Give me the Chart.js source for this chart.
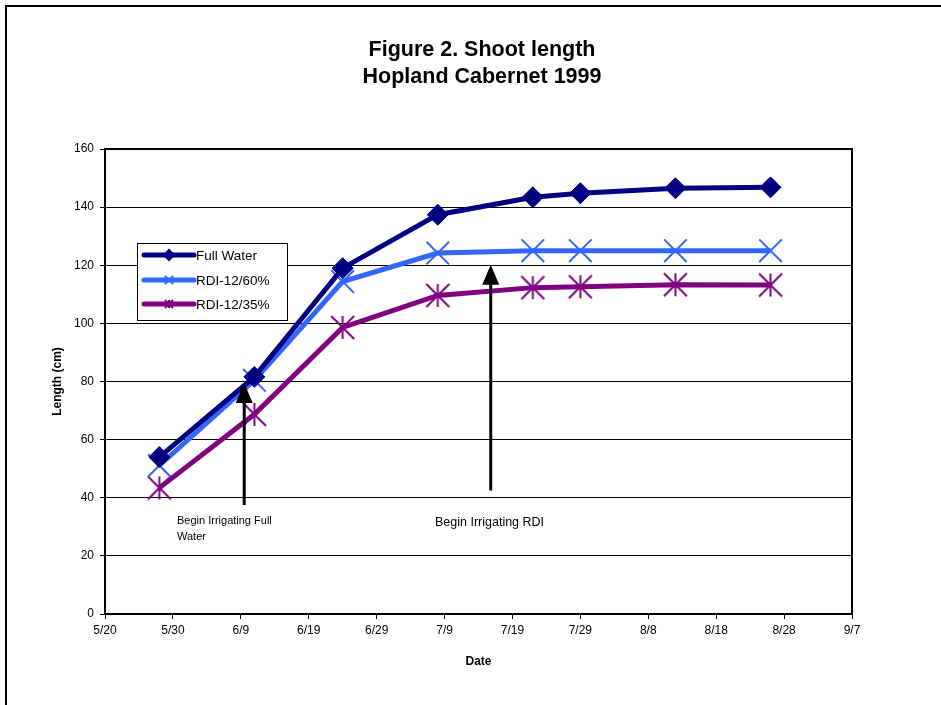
<!DOCTYPE html>
<html lang="en">
<head>
    <meta charset="UTF-8">
    <title>Figure 2. Shoot length</title>
    <script src="https://cdn.jsdelivr.net/npm/chart.js"></script>
    <style>
        html, body { margin: 0; padding: 0; background: #fff; }
        #wrap { width: 941px; height: 705px; position: relative; }
    </style>
</head>
<body>
<div id="wrap"><canvas id="shootChart"></canvas></div>
<script>
    // sample dates (1999) and shoot length in cm
    const sampleDates = ["5/28", "6/11", "6/24", "7/8", "7/22", "7/29", "8/12", "8/26"];
    const fullWater = [54.0, 81.6, 119.0, 137.4, 143.4, 144.8, 146.5, 146.8];
    const rdi60 = [51.1, 80.4, 114.4, 124.2, 125.0, 125.0, 125.0, 125.0];
    const rdi35 = [43.4, 68.7, 98.6, 109.6, 112.3, 112.6, 113.3, 113.2];
    const seriesNames = ["Full Water", "RDI-12/60%", "RDI-12/35%"];

    const xTickLabels = ["5/20", "5/30", "6/9", "6/19", "6/29", "7/9", "7/19", "7/29", "8/8", "8/18", "8/28", "9/7"];
    const yTicks = [0, 20, 40, 60, 80, 100, 120, 140, 160];

    // days counted from 5/20
    function dayOf(md) {
        const p = md.split("/");
        const d = new Date(1999, parseInt(p[0]) - 1, parseInt(p[1]));
        return Math.round((d - new Date(1999, 4, 20)) / 86400000);
    }
    const pts = arr => arr.map((v, i) => ({ x: dayOf(sampleDates[i]), y: v }));

    const FONT = "'Liberation Sans', Arial, sans-serif";
    const colors = ["#000080", "#3366ff", "#800080"];

    // excel-like asterisk marker: vertical bar + X
    function starMarker(half, color) {
        const s = Math.ceil(half * 2 + 4);
        const cv = document.createElement("canvas");
        cv.width = s; cv.height = s;
        const g = cv.getContext("2d");
        const m = s / 2;
        g.strokeStyle = color;
        g.lineWidth = 2;
        g.beginPath();
        g.moveTo(m, m - half); g.lineTo(m, m + half);
        g.moveTo(m - half, m - half); g.lineTo(m + half, m + half);
        g.moveTo(m - half, m + half); g.lineTo(m + half, m - half);
        g.stroke();
        return cv;
    }
    const starBig = starMarker(11.5, colors[2]);
    const starSmall = starMarker(4, colors[2]);

    const styles = ["rectRot", "crossRot", starBig];
    const legendStyles = ["rectRot", "crossRot", starSmall];
    const radii = [10.5, 16, 12];

    const decor = {
        id: "decor",
        beforeDraw(chart) {
            const c = chart.ctx;
            c.save();
            c.fillStyle = "#fff";
            c.fillRect(0, 0, chart.width, chart.height);
            c.restore();
        },
        afterDraw(chart) {
            const c = chart.ctx, a = chart.chartArea;
            const xs = chart.scales.x, ys = chart.scales.y;
            c.save();

            // outer frame
            c.strokeStyle = "#000";
            c.lineWidth = 2;
            c.beginPath();
            c.moveTo(6, 720); c.lineTo(6, 6); c.lineTo(945, 6);
            c.stroke();

            // plot border
            c.strokeRect(a.left, a.top, a.right - a.left, a.bottom - a.top);

            // title
            c.fillStyle = "#000";
            c.textAlign = "center";
            c.textBaseline = "middle";
            c.font = "bold 21.5px " + FONT;
            c.fillText("Figure 2. Shoot length", 482, 50);
            c.fillText("Hopland Cabernet 1999", 482, 77);

            // arrows
            function arrow(day, y0, y1) {
                const x = xs.getPixelForValue(day);
                const yb = ys.getPixelForValue(y0), yt = ys.getPixelForValue(y1);
                c.lineWidth = 3;
                c.beginPath();
                c.moveTo(x, yb); c.lineTo(x, yt + 16);
                c.stroke();
                c.beginPath();
                c.moveTo(x, yt); c.lineTo(x - 8.5, yt + 20); c.lineTo(x + 8.5, yt + 20);
                c.closePath();
                c.fill();
            }
            arrow(20.5, 37.5, 79.5);
            arrow(56.8, 42.5, 120.2);

            c.textAlign = "left";
            c.font = "11px " + FONT;
            c.fillText("Begin Irrigating Full", 177, 521);
            c.fillText("Water", 177, 537);
            c.font = "12.5px " + FONT;
            c.fillText("Begin Irrigating RDI", 435, 523);

            // legend
            c.fillStyle = "#fff";
            c.fillRect(137, 243, 150, 77);
            c.strokeStyle = "#000";
            c.lineWidth = 1;
            c.strokeRect(137.5, 243.5, 150, 77);
            const rowY = [255, 280, 304];
            seriesNames.forEach((name, i) => {
                c.strokeStyle = colors[i];
                c.fillStyle = colors[i];
                c.lineWidth = 5;
                c.lineCap = "round";
                c.beginPath();
                c.moveTo(144, rowY[i]); c.lineTo(194, rowY[i]);
                c.stroke();
                c.lineWidth = 2;
                Chart.helpers.drawPoint(c, { pointStyle: legendStyles[i], radius: 5, rotation: 0, borderWidth: 2 }, 169, rowY[i]);
                c.fillStyle = "#000";
                c.font = "13.5px " + FONT;
                c.textBaseline = "middle";
                c.fillText(name, 196, rowY[i] + 1);
            });
            c.restore();
        }
    };

    const datasets = [fullWater, rdi60, rdi35].map((vals, i) => ({
        label: seriesNames[i],
        data: pts(vals),
        borderColor: colors[i],
        backgroundColor: colors[i],
        borderWidth: 5,
        tension: 0,
        pointStyle: styles[i],
        pointRadius: radii[i],
        pointHoverRadius: radii[i],
        pointBorderWidth: i === 0 ? 1 : 2,
        pointBorderColor: colors[i],
        pointBackgroundColor: colors[i]
    }));

    new Chart(document.getElementById("shootChart"), {
        type: "line",
        data: { datasets: datasets },
        options: {
            responsive: true,
            maintainAspectRatio: false,
            animation: false,
            layout: { padding: { left: 0, right: 89, top: 149, bottom: 0 } },
            plugins: {
                legend: { display: false },
                title: { display: false },
                tooltip: { enabled: false }
            },
            scales: {
                x: {
                    type: "linear",
                    min: 0,
                    max: 110,
                    afterFit: s => { s.height = 91; },
                    afterBuildTicks: s => { s.ticks = xTickLabels.map((t, i) => ({ value: i * 10 })); },
                    ticks: {
                        color: "#000",
                        font: { family: FONT, size: 12 },
                        padding: 4,
                        maxRotation: 0,
                        autoSkip: false,
                        callback: (v, i) => xTickLabels[i]
                    },
                    grid: { display: true, drawOnChartArea: false, drawTicks: true, tickLength: 5, color: "#000" },
                    border: { display: true, color: "#000", width: 2 },
                    title: {
                        display: true,
                        text: "Date",
                        color: "#000",
                        font: { family: FONT, size: 12, weight: "bold" },
                        padding: { top: 36, bottom: 36 }
                    }
                },
                y: {
                    min: 0,
                    max: 160,
                    afterFit: s => { s.width = 105; },
                    afterBuildTicks: s => { s.ticks = yTicks.map(v => ({ value: v })); },
                    ticks: {
                        color: "#000",
                        font: { family: FONT, size: 12 },
                        padding: 6
                    },
                    grid: { color: "#000", lineWidth: 1, tickLength: 5 },
                    border: { display: true, color: "#000", width: 2 },
                    title: {
                        display: true,
                        text: "Length (cm)",
                        color: "#000",
                        font: { family: FONT, size: 12, weight: "bold" },
                        padding: { top: 50, bottom: 50 }
                    }
                }
            }
        },
        plugins: [decor]
    });
</script>
</body>
</html>
